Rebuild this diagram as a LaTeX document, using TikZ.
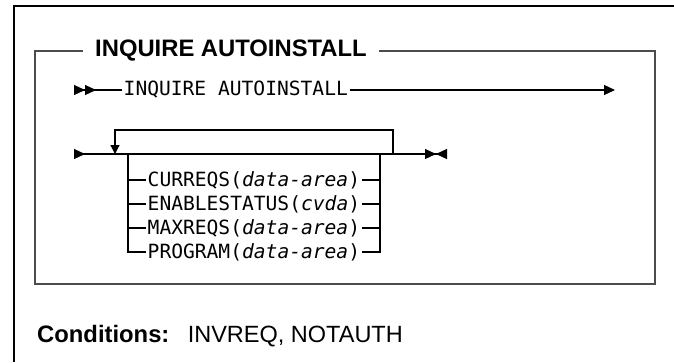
\documentclass[tikz,border=0pt]{standalone}
\usepackage{fontspec}
\setmainfont{Liberation Sans}
\newfontfamily\synfont{DejaVu Sans Mono}
\usetikzlibrary{arrows.meta, positioning}

\tikzset{
  tri/.tip={Triangle[length=11pt,width=10pt]},
  rtri/.tip={Triangle[length=11pt,width=10pt,reversed]},
  synline/.style={line width=1.2pt},
  syntext/.style={inner xsep=1.5pt, inner ysep=0pt, anchor=west, font=\synfont\fontsize{19.6}{23}\selectfont},
  boxline/.style={draw=black!70, line width=2pt},
  headtext/.style={font=\fontsize{23.8}{28}\selectfont\bfseries}
}

\begin{document}
\begin{tikzpicture}[x=1pt, y=-1pt]
  \useasboundingbox (0,0) rectangle (674,362);
  \draw[line width=1.3pt] (14,362) -- (14,6) -- (674,6);

  \node[headtext, anchor=west, inner xsep=12pt, inner ysep=0pt] (title) at (83,51) {INQUIRE AUTOINSTALL};
  \draw[boxline] (title.east) -- (655,51) -- (655,284) -- (35,284) -- (35,51) -- (title.west);

  \node[syntext] (stmt) at (122,90) {INQUIRE AUTOINSTALL};
  \draw[synline, {rtri[]rtri[]}-] (74,90) -- (stmt.west);
  \draw[synline, -{tri[]}] (stmt.east) -- (615,90);

  \coordinate (loopin) at (115,154);
  \coordinate (loopout) at (393,154);
  \draw[synline, {rtri[]}-{tri[]rtri[]}] (74,154) -- (447,154);
  \draw[synline, -{Triangle[length=9pt,width=9pt]}] (loopout) -- (393,130) -- (115,130) -- (loopin);

  \node[syntext] (curreqs) at (146,180) {CURREQS(\textit{data-area})};
  \node[syntext] (enable) at (146,204) {ENABLESTATUS(\textit{cvda})};
  \node[syntext] (maxreqs) at (146,228) {MAXREQS(\textit{data-area})};
  \node[syntext] (program) at (146,252) {PROGRAM(\textit{data-area})};

  \draw[synline] (128,154) |- (program.west);
  \draw[synline] (380,154) |- (program.east);
  \foreach \n in {curreqs, enable, maxreqs} {
    \draw[synline] (128,0 |- \n.west) -- (\n.west);
    \draw[synline] (\n.east) -- (380,0 |- \n.east);
  }

  \node[headtext, anchor=base west, inner sep=0pt] (cond) at (37,342) {Conditions:};
  \node[font=\fontsize{23.5}{28}\selectfont, anchor=base west, inner sep=0pt] (condlist) at ([xshift=18pt]cond.base east) {INVREQ, NOTAUTH};
\end{tikzpicture}
\end{document}
